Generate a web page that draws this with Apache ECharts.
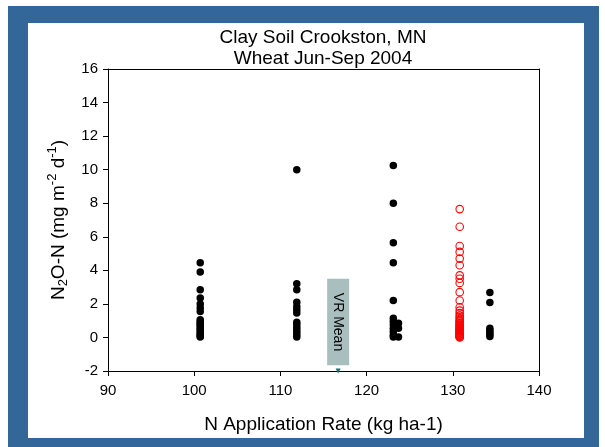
<!DOCTYPE html>
<html><head><meta charset="utf-8">
<script src="https://cdn.jsdelivr.net/npm/echarts@6/dist/echarts.min.js"></script>
<style>html,body{margin:0;padding:0;background:#fff}#c{width:605px;height:447px}</style>
</head><body><div id="c"></div>
<script>
// ---- data ----
const titleLines = ['Clay Soil Crookston, MN', 'Wheat Jun-Sep 2004'];
const xName = 'N Application Rate (kg ha-1)';
const xMin = 90, xMax = 140, xStep = 10;
const yMin = -2, yMax = 16, yStep = 2;

const rateA = 100.7;
const fluxA = [4.45, 3.9, 2.85, 2.35, 2.0, 1.75, 1.55, 1.05, 0.95, 0.85, 0.75, 0.65, 0.55, 0.45, 0.35, 0.25, 0.15, 0.08, 0.02];
const rateB = 111.9;
const fluxB = [10.0, 3.2, 2.85, 2.1, 1.85, 1.65, 1.45, 0.9, 0.75, 0.6, 0.45, 0.3, 0.15, 0.02];
const rateC = 123.1;
const fluxC = [10.25, 8.0, 5.65, 4.45, 2.2, 1.15, 0.95, 0.75, 0.55, 0.35, 0.15, 0.02];
const rateC2 = 123.7;
const fluxC2 = [0.85, 0.55, 0.02];
const rateVR = 130.8;
const fluxVR = [7.65, 6.6, 5.45, 5.1, 4.7, 4.3, 3.7, 3.5, 3.25, 2.7, 2.2, 1.8, 1.6, 1.45, 1.3, 1.2, 1.1, 1.0, 0.95, 0.88, 0.82, 0.75, 0.7, 0.65, 0.6, 0.55, 0.5, 0.45, 0.4, 0.36, 0.32, 0.28, 0.24, 0.2, 0.16, 0.12, 0.09, 0.06, 0.03, 0.0];
const rateE = 134.3;
const fluxE = [2.68, 2.08, 0.55, 0.42, 0.3, 0.18, 0.05];
const vrMeanRate = 116.7;
const vrMeanFlux = -2;
const vrMeanLabel = 'VR Mean';

// ---- build ----
const pts = (x, arr) => arr.map(v => [x, v]);
const blackData = [].concat(pts(rateA, fluxA), pts(rateB, fluxB), pts(rateC, fluxC), pts(rateC2, fluxC2), pts(rateE, fluxE));
const redData = pts(rateVR, fluxVR);

const FONT = '"Liberation Sans", Arial, sans-serif';
const chart = echarts.init(document.getElementById('c'), null, {renderer: 'canvas'});
const plainAxis = {
  axisLine: {show: true, onZero: false, lineStyle: {color: '#000', width: 1}},
  axisTick: {show: false}, axisLabel: {show: false}, splitLine: {show: false}
};
chart.setOption({
  animation: false,
  backgroundColor: 'transparent',
  graphic: {elements: [
    {type: 'rect', silent: true, z: -10, shape: {x: 8, y: 6, width: 591, height: 441}, style: {fill: '#336699'}},
    {type: 'rect', silent: true, z: -9, shape: {x: 28, y: 23, width: 556, height: 415}, style: {fill: '#ffffff'}}
  ]},
  title: {
    text: titleLines.join('\n'), left: 323, top: 27, textAlign: 'center', padding: 0,
    textStyle: {fontFamily: FONT, fontSize: 19, fontWeight: 'normal', color: '#000', lineHeight: 21}
  },
  grid: {left: 108, right: 66, top: 69, bottom: 76, containLabel: false},
  xAxis: [{
    type: 'value', min: xMin, max: xMax, interval: xStep, position: 'bottom',
    name: xName, nameLocation: 'middle', nameGap: 44,
    nameTextStyle: {fontFamily: FONT, fontSize: 19, color: '#000'},
    axisLine: {show: true, onZero: false, lineStyle: {color: '#000', width: 1}},
    axisTick: {show: true, inside: false, length: 5, lineStyle: {color: '#000'}},
    axisLabel: {fontFamily: FONT, fontSize: 15, color: '#000', margin: 12},
    splitLine: {show: false}
  }, Object.assign({type: 'value', position: 'top', min: xMin, max: xMax}, plainAxis)],
  yAxis: [{
    type: 'value', min: yMin, max: yMax, interval: yStep, position: 'left',
    name: '{n|N}{sub|2}{n|O-N (mg m}{sup|-2}{n| d}{sup|-1}{n|)}',
    nameLocation: 'middle', nameGap: 36, nameRotate: 90,
    nameTextStyle: {
      fontFamily: FONT, color: '#000',
      rich: {
        n: {fontFamily: FONT, fontSize: 19, color: '#000', lineHeight: 24},
        sub: {fontFamily: FONT, fontSize: 13, color: '#000', lineHeight: 14, verticalAlign: 'bottom'},
        sup: {fontFamily: FONT, fontSize: 13, color: '#000', lineHeight: 14, verticalAlign: 'top'}
      }
    },
    axisLine: {show: true, onZero: false, lineStyle: {color: '#000', width: 1}},
    axisTick: {show: true, inside: false, length: 5, lineStyle: {color: '#000'}},
    axisLabel: {fontFamily: FONT, fontSize: 15, color: '#000', margin: 10},
    splitLine: {show: false}
  }, Object.assign({type: 'value', position: 'right', min: yMin, max: yMax}, plainAxis)],
  series: [
    {type: 'scatter', data: blackData, symbol: 'circle', symbolSize: 7.5,
     itemStyle: {color: '#000', opacity: 1}, z: 3},
    {type: 'scatter', data: redData, symbol: 'circle', symbolSize: 7.5,
     itemStyle: {color: 'rgba(0,0,0,0)', borderColor: '#ff0000', borderWidth: 1.1, opacity: 1}, z: 4},
    {type: 'scatter', data: [[vrMeanRate, vrMeanFlux]], symbol: 'triangle', symbolRotate: 180, symbolSize: 5,
     itemStyle: {color: '#1f7070', opacity: 1}, z: 5,
     label: {show: true, formatter: vrMeanLabel, position: 'inside', rotate: -90, offset: [-49, 0],
       backgroundColor: '#a9bfbf', padding: [4, 14, 4, 14],
       fontFamily: FONT, fontSize: 14, color: '#000'}}
  ]
});
</script></body></html>
